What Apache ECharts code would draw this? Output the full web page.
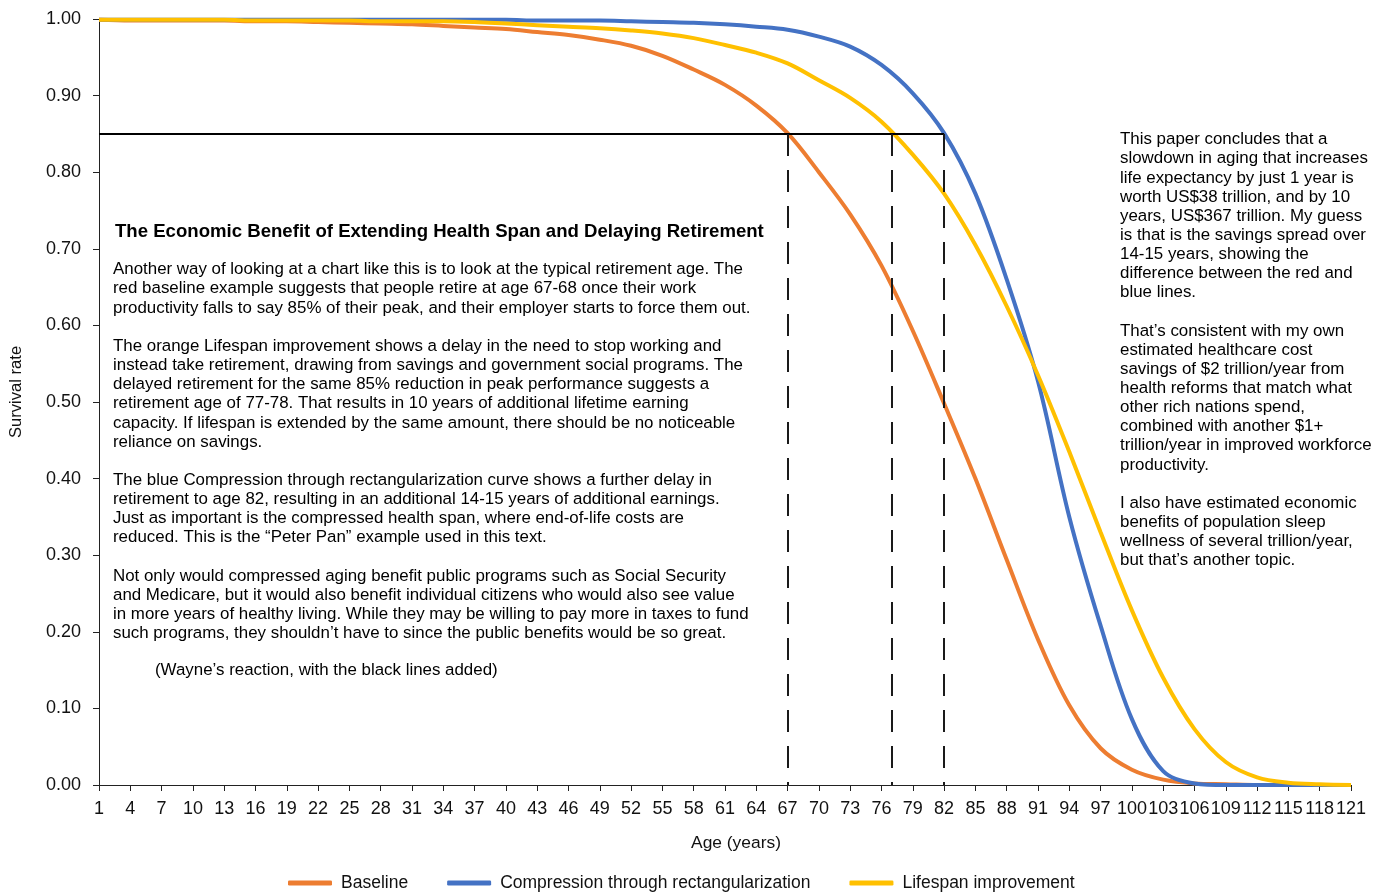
<!DOCTYPE html>
<html>
<head>
<meta charset="utf-8">
<title>Survival rate by age</title>
<script src="https://cdn.jsdelivr.net/npm/echarts@6/dist/echarts.min.js"></script>
<style>
  html, body { margin: 0; padding: 0; background: #fff; }
  #chart { width: 1381px; height: 893px; }
</style>
</head>
<body>
<div id="chart"></div>
<script>
// ages on the category axis, one per year
const ages = [];
for (let a = 1; a <= 121; a++) ages.push(String(a));

// values read every 3 years
const sampleAges = ['1', '4', '7', '10', '13', '16', '19', '22', '25', '28', '31', '34', '37', '40',
  '43', '46', '49', '52', '55', '58', '61', '64', '67', '70', '73', '76', '79', '82', '85', '88',
  '91', '94', '97', '100', '103', '106', '109', '112', '115', '118', '121'];

const baseline = [0.999, 0.998, 0.998, 0.998, 0.998, 0.997, 0.997, 0.996, 0.995, 0.994, 0.993, 0.991, 0.989, 0.987,
  0.983, 0.979, 0.973, 0.965, 0.952, 0.934, 0.914, 0.887, 0.851, 0.800, 0.745, 0.678, 0.593, 0.498, 0.400, 0.294,
  0.190, 0.104, 0.048, 0.020, 0.007, 0.002, 0.001, 0, 0, 0, 0];

const compression = [0.999, 0.999, 0.999, 0.999, 0.999, 0.999, 0.999, 0.999, 0.999, 0.999, 0.999, 0.999, 0.999, 0.999,
  0.998, 0.998, 0.998, 0.997, 0.996, 0.995, 0.993, 0.990, 0.986, 0.977, 0.964, 0.940, 0.903, 0.851, 0.772, 0.660,
  0.527, 0.350, 0.208, 0.086, 0.018, 0.002, 0, 0, 0, 0, 0];

const lifespan = [0.999, 0.999, 0.999, 0.999, 0.999, 0.998, 0.998, 0.998, 0.998, 0.997, 0.997, 0.997, 0.996, 0.994,
  0.992, 0.990, 0.988, 0.985, 0.981, 0.975, 0.966, 0.956, 0.942, 0.920, 0.897, 0.866, 0.823, 0.772, 0.705, 0.625,
  0.535, 0.435, 0.330, 0.228, 0.140, 0.073, 0.030, 0.010, 0.003, 0.001, 0];

const threshold = 0.85;
const retirementAges = ['67', '77', '82'];

const leftTitle = 'The Economic Benefit of Extending Health Span and Delaying Retirement';
const leftText = [
  'Another way of looking at a chart like this is to look at the typical retirement age. The',
  'red baseline example suggests that people retire at age 67-68 once their work',
  'productivity falls to say 85% of their peak, and their employer starts to force them out.',
  '',
  'The orange Lifespan improvement shows a delay in the need to stop working and',
  'instead take retirement, drawing from savings and government social programs. The',
  'delayed retirement for the same 85% reduction in peak performance suggests a',
  'retirement age of 77-78. That results in 10 years of additional lifetime earning',
  'capacity. If lifespan is extended by the same amount, there should be no noticeable',
  'reliance on savings.',
  '',
  'The blue Compression through rectangularization curve shows a further delay in',
  'retirement to age 82, resulting in an additional 14-15 years of additional earnings.',
  'Just as important is the compressed health span, where end-of-life costs are',
  'reduced. This is the \u201cPeter Pan\u201d example used in this text.',
  '',
  'Not only would compressed aging benefit public programs such as Social Security',
  'and Medicare, but it would also benefit individual citizens who would also see value',
  'in more years of healthy living. While they may be willing to pay more in taxes to fund',
  'such programs, they shouldn\u2019t have to since the public benefits would be so great.'
];
const leftNote = '(Wayne\u2019s reaction, with the black lines added)';
const rightText = [
  'This paper concludes that a',
  'slowdown in aging that increases',
  'life expectancy by just 1 year is',
  'worth US$38 trillion, and by 10',
  'years, US$367 trillion. My guess',
  'is that is the savings spread over',
  '14-15 years, showing the',
  'difference between the red and',
  'blue lines.',
  '',
  'That\u2019s consistent with my own',
  'estimated healthcare cost',
  'savings of $2 trillion/year from',
  'health reforms that match what',
  'other rich nations spend,',
  'combined with another $1+',
  'trillion/year in improved workforce',
  'productivity.',
  '',
  'I also have estimated economic',
  'benefits of population sleep',
  'wellness of several trillion/year,',
  'but that\u2019s another topic.'
];

const font = '"Liberation Sans", Arial, Helvetica, sans-serif';

function pairs(values) {
  return values.map((v, i) => [sampleAges[i], v]);
}

function lineSeries(name, values, color) {
  return {
    name: name,
    type: 'line',
    data: pairs(values),
    smooth: 0.35,
    showSymbol: false,
    symbol: 'none',
    lineStyle: { color: color, width: 4 },
    itemStyle: { color: color },
    silent: true,
  };
}

const chart = echarts.init(document.getElementById('chart'));

// black helper lines: 85% level and the three retirement ages
const markLines = [[{ coord: ['1', threshold] }, { coord: [retirementAges[2], threshold] }]];
retirementAges.forEach((a) => {
  markLines.push([
    { coord: [a, threshold], lineStyle: { type: [22, 14], color: '#1a1a1a', width: 2 } },
    { coord: [a, 0] },
  ]);
});

const baseSeries = lineSeries('Baseline', baseline, '#ED7D31');
baseSeries.markLine = {
  silent: true,
  symbol: ['none', 'none'],
  label: { show: false },
  lineStyle: { type: 'solid', color: '#000', width: 2 },
  data: markLines,
};

const option = {
  animation: false,
  textStyle: { fontFamily: font },
  grid: { left: 98, right: 30, top: 19, bottom: 108 },
  legend: {
    left: 283,
    top: 869,
    itemGap: 39,
    itemWidth: 44,
    itemHeight: 5,
    icon: 'roundRect',
    textStyle: { fontSize: 17.5, color: '#111', fontFamily: font, padding: [0, 0, 0, 4] },
    data: ['Baseline', 'Compression through rectangularization', 'Lifespan improvement'],
  },
  xAxis: {
    type: 'category',
    data: ages,
    boundaryGap: false,
    name: 'Age (years)',
    nameLocation: 'middle',
    nameGap: 50,
    nameTextStyle: { fontSize: 17.4, color: '#111', fontFamily: font, padding: [0, 0, 0, 22] },
    axisLine: { lineStyle: { color: '#222', width: 1 } },
    axisTick: { interval: 2, length: 6, lineStyle: { color: '#222' } },
    axisLabel: { interval: 2, fontSize: 18, color: '#111', margin: 15, fontFamily: font },
    splitLine: { show: false },
  },
  yAxis: {
    type: 'value',
    min: 0,
    max: 1,
    interval: 0.1,
    name: 'Survival rate',
    nameLocation: 'middle',
    nameGap: 74,
    nameTextStyle: { fontSize: 16.6, color: '#111', fontFamily: font, padding: [0, 0, 0, 20] },
    axisLine: { show: true, lineStyle: { color: '#222', width: 1 } },
    axisTick: { show: true, length: 6, lineStyle: { color: '#222' } },
    axisLabel: { fontSize: 18, color: '#111', margin: 18, fontFamily: font, formatter: (v) => v.toFixed(2) },
    splitLine: { show: false },
  },
  series: [
    baseSeries,
    lineSeries('Compression through rectangularization', compression, '#4472C4'),
    lineSeries('Lifespan improvement', lifespan, '#FFC000'),
  ],
  graphic: [
    {
      type: 'text', left: 115, top: 222, z: 10,
      style: { text: leftTitle, fontSize: 18.6, fontWeight: 'bold', fontFamily: font, fill: '#000' },
    },
    {
      type: 'text', left: 113, top: 260, z: 10,
      style: { text: leftText.join('\n'), fontSize: 16.9, lineHeight: 19.16, fontFamily: font, fill: '#000' },
    },
    {
      type: 'text', left: 155, top: 662, z: 10,
      style: { text: leftNote, fontSize: 16.9, fontFamily: font, fill: '#000' },
    },
    {
      type: 'text', left: 1120, top: 130, z: 10,
      style: { text: rightText.join('\n'), fontSize: 16.9, lineHeight: 19.14, fontFamily: font, fill: '#000' },
    },
  ],
};

chart.setOption(option);
</script>
</body>
</html>
